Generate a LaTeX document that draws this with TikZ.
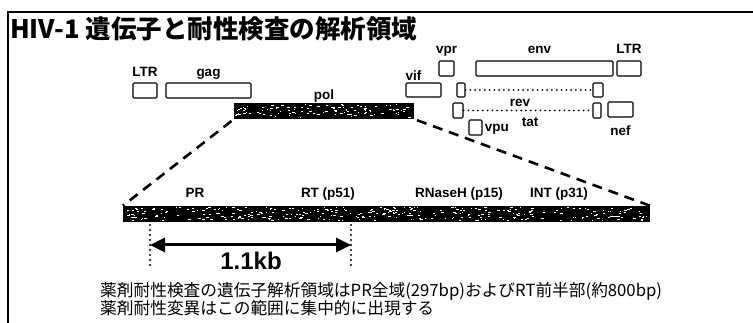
\documentclass[tikz,border=0pt]{standalone}
\usepackage{fontspec}
\usetikzlibrary{arrows.meta,positioning}
\setmainfont{Noto Sans CJK JP}
\newfontfamily\labfont{Liberation Sans}
% white flecks on the dark gene bars
\newcommand\speckle[5]{%
  \foreach \k in {1,...,#5}{%
    \pgfmathsetmacro\spx{#1+rnd*(#3-#1-2)}%
    \pgfmathsetmacro\spy{#2+rnd*(#4-#2-1)}%
    \pgfmathsetmacro\spw{0.8+rnd*2.2}%
    \fill[white] (\spx,\spy) rectangle ++(\spw,1);}}

\begin{document}
\begin{tikzpicture}[x=1pt, y=-1pt, font=\labfont\bfseries\fontsize{13.5}{16}\selectfont,
  genebox/.style={draw, line width=1.1pt, rounded corners=1.2pt, inner sep=0pt},
  darkbar/.style={fill=black, inner sep=0pt},
  lbl/.style={inner sep=0pt, text depth=0pt},
  zoomline/.style={line width=2.6pt, dash pattern=on 10pt off 7pt},
  dotline/.style={line width=2.3pt, line cap=round, dash pattern=on 0pt off 5pt},
  revline/.style={line width=2pt, line cap=round, dash pattern=on 0pt off 4.8pt}]
  \useasboundingbox (0,0) rectangle (753,323);
  \pgfmathsetseed{11}
  \draw[line width=1.3pt] (8,323) -- (8,12) -- (753,12);
  \node[anchor=base west, inner sep=0pt, font=\fontsize{25.5}{28}\selectfont\bfseries] (title) at (10,39) {HIV-1 遺伝子と耐性検査の解析領域};

  % genome map
  \node[genebox, minimum width=24pt, minimum height=15pt] (ltrL) at (145,90.5) {};
  \node[genebox, minimum width=85pt, minimum height=15pt] (gag) at (208.5,90.5) {};
  \node[darkbar, minimum width=180pt, minimum height=16pt] (pol) at (324,111) {};
  \node[genebox, minimum width=35pt, minimum height=14pt] (vif) at (423.5,90) {};
  \node[genebox, minimum width=15pt, minimum height=15pt] (vpr) at (446.5,68.5) {};
  \node[genebox, minimum width=137pt, minimum height=15pt] (env) at (544.5,68.5) {};
  \node[genebox, minimum width=24pt, minimum height=15pt] (ltrR) at (629,68.5) {};
  \node[genebox, minimum width=8pt, minimum height=14pt] (revA) at (461,90) {};
  \node[genebox, minimum width=10pt, minimum height=14pt] (revB) at (598,90) {};
  \node[genebox, minimum width=10pt, minimum height=15pt] (tatA) at (458,110.5) {};
  \node[genebox, minimum width=8pt, minimum height=15pt] (tatB) at (597,110.5) {};
  \node[genebox, minimum width=25pt, minimum height=15pt] (nef) at (620.5,109.5) {};
  \node[genebox, minimum width=13pt, minimum height=15pt] (vpu) at (475.5,127.5) {};
  \speckle{235}{104}{413}{118}{110}

  \node[lbl, above=6pt of ltrL] {LTR};
  \node[lbl, above=6pt of gag] {gag};
  \node[lbl, above=3pt of pol] {pol};
  \node[lbl, above right=2pt and 0pt of vif.north west] {vif};
  \node[lbl, above=7pt of vpr] {vpr};
  \node[lbl, above=7pt of env, xshift=-5pt] {env};
  \node[lbl, above=7pt of ltrR] {LTR};
  \node[lbl, anchor=base] at (520,107) {rev};
  \node[lbl, anchor=base] at (530,127) {tat};
  \node[lbl, right=2pt of vpu] {vpu};
  \node[lbl, below=8pt of nef] {nef};
  \draw[revline] (revA) -- (revB);
  \draw[revline] (tatA) -- (tatB);

  % pol enlarged
  \node[darkbar, minimum width=527pt, minimum height=16pt] (polx) at (386.5,214) {};
  \speckle{124}{207}{649}{221}{330}
  \draw[zoomline, shorten <=3pt] (pol.south west) -- (polx.north west);
  \draw[zoomline, shorten <=3pt] (pol.south east) -- (polx.north east);
  \node[lbl, anchor=base] at (195,198) {PR};
  \node[lbl, anchor=base] at (328,198) {RT (p51)};
  \node[lbl, anchor=base] at (459,198) {RNaseH (p15)};
  \node[lbl, anchor=base] at (559,198) {INT (p31)};

  % analysed span
  \coordinate (cutL) at (150,225);
  \coordinate (cutLb) at (150,268);
  \coordinate (cutR) at (351,225);
  \coordinate (cutRb) at (351,268);
  \coordinate (armL) at (150,245);
  \coordinate (armR) at (351,245);
  \draw[dotline] (cutL) -- (cutLb);
  \draw[dotline] (cutR) -- (cutRb);
  \draw[<->, line width=3pt, >={Triangle[length=15pt,width=14pt]}] (armL) -- (armR);
  \node[font=\labfont\bfseries\fontsize{24}{26}\selectfont, inner sep=0pt] (span) at (251,261) {1.1kb};

  \node[anchor=base west, inner sep=0pt, font=\fontsize{16.7}{18}\selectfont] (note1) at (100,297) {薬剤耐性検査の遺伝子解析領域はPR全域(297bp)およびRT前半部(約800bp)};
  \node[anchor=base west, inner sep=0pt, font=\fontsize{16.7}{18}\selectfont] (note2) at (100,315) {薬剤耐性変異はこの範囲に集中的に出現する};
\end{tikzpicture}
\end{document}
